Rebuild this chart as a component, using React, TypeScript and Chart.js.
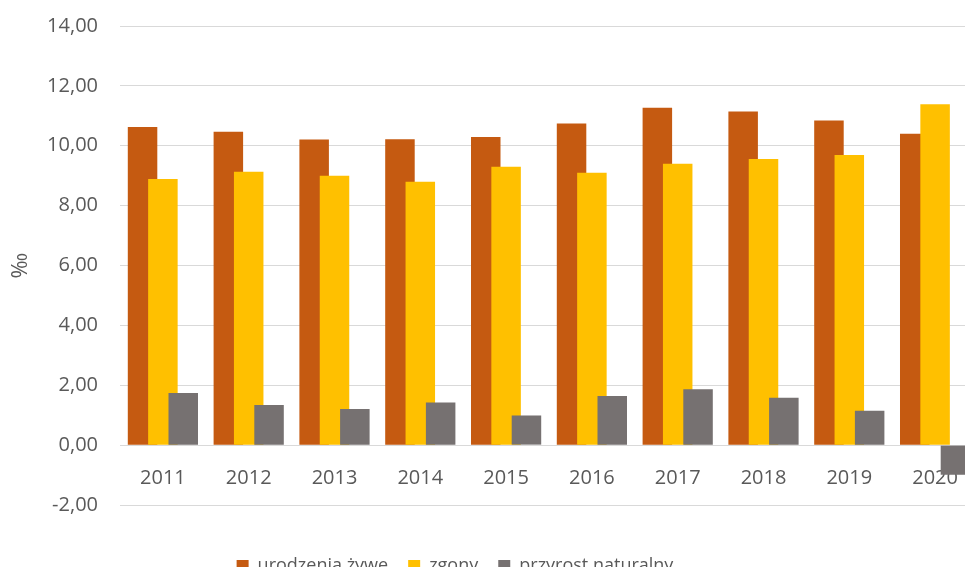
import React, { useEffect, useRef } from "react";
import { Chart, registerables } from "chart.js";

Chart.register(...registerables);

const years = ["2011", "2012", "2013", "2014", "2015", "2016", "2017", "2018", "2019", "2020"];
const births = [10.63, 10.47, 10.21, 10.22, 10.29, 10.74, 11.27, 11.14, 10.84, 10.40];
const deaths = [8.89, 9.13, 9.0, 8.8, 9.3, 9.1, 9.4, 9.56, 9.69, 11.39];
const growth = [1.74, 1.34, 1.21, 1.42, 0.99, 1.64, 1.87, 1.58, 1.15, -0.99];
const seriesNames = ["urodzenia żywe", "zgony", "przyrost naturalny"];
const yTicks = { min: -2, max: 14, step: 2 };
const yTitle = "‰";

const W = 995;
const H = 600;

const drawOrderPlugin = {
  id: "drawOrder",
  beforeDatasetsDraw(chart: any) {
    const metas = chart.getSortedVisibleDatasetMetas();
    for (const meta of metas) meta.controller.draw();
    return false;
  },
};

const legendShiftPlugin = {
  id: "legendShift",
  afterLayout(chart: any) {
    const lg = chart.legend;
    if (lg) {
      lg.left = 0;
      lg.right = 910;
    }
  },
};

export default function App() {
  const ref = useRef<HTMLCanvasElement | null>(null);
  useEffect(() => {
    if (!ref.current) return;
    const font = "'Open Sans', 'Noto Sans', sans-serif";
    const chart = new Chart(ref.current, {
      type: "bar",
      data: {
        labels: years,
        datasets: [
          { label: seriesNames[0], data: births, backgroundColor: "#C55A11" },
          { label: seriesNames[1], data: deaths, backgroundColor: "#FFC000" },
          { label: seriesNames[2], data: growth, backgroundColor: "#767171" },
        ],
      },
      options: {
        responsive: false,
        animation: false,
        datasets: { bar: { categoryPercentage: 0.7115, barPercentage: 1.45, borderWidth: 0 } },
        layout: { padding: { left: 4, right: W - 978, top: 17, bottom: 7 } },
        font: { family: font },
        scales: {
          x: {
            position: { y: 0 } as any,
            grid: { display: false },
            border: { display: false },
            ticks: { color: "#595959", font: { family: font, size: 20 }, padding: 13 },
          },
          y: {
            min: yTicks.min,
            max: yTicks.max,
            grid: { color: "#D9D9D9", lineWidth: 1, drawTicks: false },
            border: { display: false },
            ticks: {
              stepSize: yTicks.step,
              color: "#595959",
              font: { family: font, size: 20 },
              padding: 22,
              callback: (v: any) => Number(v).toFixed(2).replace(".", ","),
            },
            title: {
              display: true,
              text: yTitle,
              color: "#595959",
              font: { family: font, size: 22 },
              padding: { top: 4, bottom: 4 },
            },
            afterFit(scale: any) {
              scale.width = 116;
            },
          },
        },
        plugins: {
          legend: {
            position: "bottom",
            title: { display: true, text: " ", font: { size: 10 }, padding: { top: 0, bottom: 20 } },
            labels: {
              boxWidth: 12,
              boxHeight: 12,
              padding: 20,
              color: "#595959",
              font: { family: font, size: 18 },
            },
          },
          tooltip: { enabled: false },
        },
      },
      plugins: [drawOrderPlugin, legendShiftPlugin],
    });
    return () => chart.destroy();
  }, []);
  return (
    <div
      style={{
        position: "fixed",
        left: 0,
        top: 0,
        width: 965,
        height: 567,
        overflow: "hidden",
        background: "#fff",
      }}
    >
      <canvas
        ref={ref}
        width={W}
        height={H}
        style={{ display: "block", position: "relative", top: -8 }}
      />
    </div>
  );
}
